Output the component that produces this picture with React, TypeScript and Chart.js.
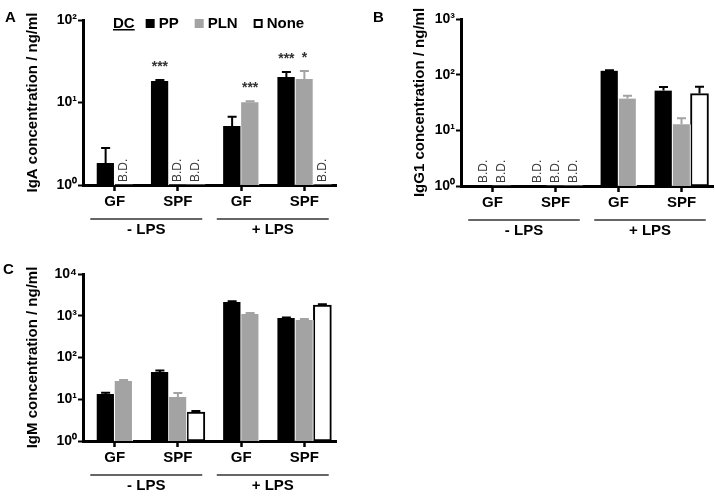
import React, { useEffect, useRef } from 'react';
import { Chart, registerables } from 'chart.js';

Chart.register(...registerables);

const FONT = '"Liberation Sans", Arial, Helvetica, sans-serif';
const BD = 'B.D.';

// ---------- data ----------
const CATEGORIES = ['GF', 'SPF', 'GF', 'SPF'];
const GROUP_LABELS = ['- LPS', '+ LPS'];
const SERIES_LABELS = ['PP', 'PLN', 'None'];
const LEGEND_TITLE = 'DC';

const Y_TICKS_A = [1, 10, 100];
const Y_TICKS_B = [1, 10, 100, 1000];
const Y_TICKS_C = [1, 10, 100, 1000, 10000];

// A: IgA
const IGA_PP = [1.85, 18.2, 5.2, 20.4];
const IGA_PP_ERR = [0.95, 0.5, 1.5, 3.0];
const IGA_PP_SIG = ['', '***', '', '***'];
const IGA_PLN = [BD, BD, 10.1, 19.3];
const IGA_PLN_ERR = [0, 0, 0.25, 4.8];
const IGA_PLN_SIG = ['', '', '***', '*'];
const IGA_NONE = [null, BD, null, BD];
const IGA_NONE_ERR = [0, 0, 0, 0];

// B: IgG1
const IGG1_PP = [BD, BD, 118, 52];
const IGG1_PP_ERR = [0, 0, 1.5, 8];
const IGG1_PLN = [BD, BD, 37.3, 12.8];
const IGG1_PLN_ERR = [0, 0, 4.5, 3.6];
const IGG1_NONE = [null, BD, null, 45.8];
const IGG1_NONE_ERR = [0, 0, 0, 15];

// C: IgM
const IGM_PP = [13.4, 45, 2135, 884];
const IGM_PP_ERR = [1.0, 4, 80, 30];
const IGM_PLN = [27.4, 11.3, 1100, 791];
const IGM_PLN_ERR = [1.5, 2.8, 70, 40];
const IGM_NONE = [null, 4.95, null, 1808];
const IGM_NONE_ERR = [0, 0.3, 0, 80];

const NO_SIG = ['', '', '', ''];
const SUP = ['\u2070', '\u00b9', '\u00b2', '\u00b3', '\u2074'];

// ---------- styles ----------
const STYLES = [
  { fill: '#000000', border: '#ffffff', bw: { top: 0, right: 1, bottom: 0, left: 0 }, err: '#000000', legendStroke: null },
  { fill: '#a3a3a3', border: '#ffffff', bw: { top: 0, right: 1, bottom: 0, left: 0 }, err: '#a3a3a3', legendStroke: null },
  { fill: '#ffffff', border: '#000000', bw: 2, err: '#000000', legendStroke: '#000000' },
];

type Val = number | string | null;
type Series = { values: Val[]; errors: number[]; sig: string[] };
type Panel = {
  letter: string;
  title: string;
  ticks: number[];
  series: Series[];
  legend: boolean;
  box: { left: number; top: number; width: number; height: number };
  area: { left: number; top: number; right: number; bottom: number };
  titleX: number;
  letterPos: { x: number; y: number };
};

const PANELS: Panel[] = [
  {
    letter: 'A',
    title: 'IgA concentration / ng/ml',
    ticks: Y_TICKS_A,
    series: [
      { values: IGA_PP, errors: IGA_PP_ERR, sig: IGA_PP_SIG },
      { values: IGA_PLN, errors: IGA_PLN_ERR, sig: IGA_PLN_SIG },
      { values: IGA_NONE, errors: IGA_NONE_ERR, sig: NO_SIG },
    ],
    legend: true,
    box: { left: 0, top: 0, width: 360, height: 255 },
    area: { left: 83, top: 20, right: 336, bottom: 185 },
    titleX: 33,
    letterPos: { x: 5, y: 18 },
  },
  {
    letter: 'B',
    title: 'IgG1 concentration / ng/ml',
    ticks: Y_TICKS_B,
    series: [
      { values: IGG1_PP, errors: IGG1_PP_ERR, sig: NO_SIG },
      { values: IGG1_PLN, errors: IGG1_PLN_ERR, sig: NO_SIG },
      { values: IGG1_NONE, errors: IGG1_NONE_ERR, sig: NO_SIG },
    ],
    legend: false,
    box: { left: 360, top: 0, width: 355, height: 255 },
    area: { left: 101, top: 19, right: 353, bottom: 186 },
    titleX: 60,
    letterPos: { x: 13, y: 18 },
  },
  {
    letter: 'C',
    title: 'IgM concentration / ng/ml',
    ticks: Y_TICKS_C,
    series: [
      { values: IGM_PP, errors: IGM_PP_ERR, sig: NO_SIG },
      { values: IGM_PLN, errors: IGM_PLN_ERR, sig: NO_SIG },
      { values: IGM_NONE, errors: IGM_NONE_ERR, sig: NO_SIG },
    ],
    legend: false,
    box: { left: 0, top: 255, width: 360, height: 246 },
    area: { left: 83, top: 19, right: 336, bottom: 186 },
    titleX: 33,
    letterPos: { x: 3, y: 15 },
  },
];

function makeExtrasPlugin(panel: Panel) {
  return {
    id: 'panelExtras' + panel.letter,
    afterDatasetsDraw(chart: any) {
      const ctx = chart.ctx as CanvasRenderingContext2D;
      const yScale = chart.scales.y;
      const bottom = chart.chartArea.bottom;
      chart.data.datasets.forEach((ds: any, di: number) => {
        const meta = chart.getDatasetMeta(di);
        meta.data.forEach((bar: any, i: number) => {
          const raw = ds.raw[i];
          if (raw === null || raw === undefined) return;
          if (raw === BD) {
            ctx.save();
            ctx.translate(bar.x, bottom - 3);
            ctx.rotate(-Math.PI / 2);
            ctx.font = `12px ${FONT}`;
            ctx.fillStyle = '#3a3a3a';
            ctx.textAlign = 'left';
            ctx.textBaseline = 'middle';
            ctx.fillText(BD, 0, 0);
            ctx.restore();
            return;
          }
          const err = ds.errs[i] || 0;
          let top = bar.y;
          if (err > 0) {
            top = yScale.getPixelForValue(raw + err);
            ctx.save();
            ctx.strokeStyle = ds.errColor;
            ctx.lineWidth = 2;
            ctx.beginPath();
            ctx.moveTo(bar.x, bar.y);
            ctx.lineTo(bar.x, top);
            ctx.moveTo(bar.x - 4.5, top);
            ctx.lineTo(bar.x + 4.5, top);
            ctx.stroke();
            ctx.restore();
          }
          const sig = ds.sigs[i];
          if (sig) {
            ctx.save();
            ctx.font = `bold 14px ${FONT}`;
            ctx.fillStyle = '#333';
            ctx.textAlign = 'center';
            ctx.textBaseline = 'alphabetic';
            ctx.fillText(sig, bar.x, top - 9);
            ctx.restore();
          }
        });
      });
    },
    afterDraw(chart: any) {
      const ctx = chart.ctx as CanvasRenderingContext2D;
      const xs = chart.scales.x;
      const bottom = chart.chartArea.bottom;
      // group lines and labels
      GROUP_LABELS.forEach((g, gi) => {
        const x0 = xs.getPixelForValue(gi * 2);
        const x1 = xs.getPixelForValue(gi * 2 + 1);
        const c = (x0 + x1) / 2;
        const half = (x1 - x0) * 0.885;
        ctx.save();
        ctx.strokeStyle = '#333';
        ctx.lineWidth = 1.5;
        ctx.beginPath();
        ctx.moveTo(c - half, bottom + 34);
        ctx.lineTo(c + half, bottom + 34);
        ctx.stroke();
        ctx.font = `bold 15px ${FONT}`;
        ctx.fillStyle = '#000';
        ctx.textAlign = 'center';
        ctx.textBaseline = 'middle';
        ctx.fillText(g, c, bottom + 45);
        ctx.restore();
      });
      // panel letter
      ctx.save();
      ctx.font = `bold 15px ${FONT}`;
      ctx.fillStyle = '#000';
      ctx.textAlign = 'left';
      ctx.textBaseline = 'middle';
      ctx.fillText(panel.letter, panel.letterPos.x, panel.letterPos.y);
      ctx.restore();
      // legend
      if (panel.legend) {
        ctx.save();
        ctx.font = `bold 15px ${FONT}`;
        ctx.fillStyle = '#000';
        ctx.textAlign = 'left';
        ctx.textBaseline = 'middle';
        const y = 23.5;
        let x = 113;
        ctx.fillText(LEGEND_TITLE, x, y);
        const tw = ctx.measureText(LEGEND_TITLE).width;
        ctx.fillRect(x, y + 5.5, tw, 1.5);
        x += tw + 11;
        SERIES_LABELS.forEach((lab, si) => {
          const st = STYLES[si];
          if (st.legendStroke) {
            ctx.fillStyle = st.fill;
            ctx.fillRect(x, y - 4.5, 9, 9);
            ctx.strokeStyle = st.legendStroke;
            ctx.lineWidth = 2;
            ctx.strokeRect(x + 1, y - 3.5, 7, 7);
          } else {
            ctx.fillStyle = st.fill;
            ctx.fillRect(x, y - 4.5, 9, 9);
          }
          x += 9 + 4;
          ctx.fillStyle = '#000';
          ctx.fillText(lab, x, y);
          x += ctx.measureText(lab).width + 16;
        });
        ctx.restore();
      }
    },
  };
}

function PanelChart({ panel }: { panel: Panel }) {
  const ref = useRef<HTMLCanvasElement | null>(null);
  useEffect(() => {
    if (!ref.current) return;
    const { box, area, ticks } = panel;
    const datasets = panel.series.map((s, si) => {
      const st = STYLES[si];
      return {
        label: SERIES_LABELS[si],
        data: s.values.map((v) => (v === BD ? ticks[0] : v)),
        raw: s.values,
        errs: s.errors,
        sigs: s.sig,
        errColor: st.err,
        backgroundColor: st.fill,
        borderColor: st.border,
        borderWidth: (c: any) => (s.values[c.dataIndex] === BD ? 0 : st.bw),
        borderSkipped: si === 2 ? false : 'start',
        barThickness: 18,
        skipNull: true,
      };
    });
    const chart = new Chart(ref.current, {
      type: 'bar',
      data: { labels: CATEGORIES, datasets: datasets as any },
      options: {
        animation: false,
        responsive: false,
        devicePixelRatio: 1,
        layout: { padding: { left: 0, top: area.top, right: box.width - area.right, bottom: 0 } },
        plugins: { legend: { display: false }, tooltip: { enabled: false } },
        datasets: { bar: { skipNull: true } } as any,
        scales: {
          x: {
            type: 'category',
            offset: true,
            z: 1,
            grid: {
              display: true,
              drawOnChartArea: false,
              drawTicks: true,
              tickLength: 6,
              tickWidth: 2.5,
              tickColor: '#000',
              offset: false,
            },
            border: { display: true, color: '#000', width: 3 },
            ticks: {
              color: '#000',
              font: { family: FONT, size: 15, weight: 'bold' },
              padding: 2,
              maxRotation: 0,
              autoSkip: false,
            },
            afterFit: (s: any) => {
              s.height = box.height - area.bottom;
            },
          },
          y: {
            type: 'logarithmic',
            min: ticks[0],
            max: ticks[ticks.length - 1],
            z: 1,
            afterBuildTicks: (s: any) => {
              s.ticks = ticks.map((v) => ({ value: v, major: true }));
            },
            grid: {
              display: true,
              drawOnChartArea: false,
              drawTicks: true,
              tickLength: 5,
              tickWidth: 2,
              tickColor: '#000',
            },
            border: { display: true, color: '#000', width: 3 },
            ticks: {
              color: '#000',
              font: { family: FONT, size: 14, weight: 'bold' },
              padding: 1,
              callback: (v: any) => '10' + SUP[Math.round(Math.log10(Number(v)))],
            },
            title: {
              display: true,
              text: panel.title,
              color: '#000',
              font: { family: FONT, size: 15, weight: 'bold' },
              padding: { top: panel.titleX - 9, bottom: 0 },
            },
            afterFit: (s: any) => {
              s.width = area.left;
            },
          },
        },
      } as any,
      plugins: [makeExtrasPlugin(panel)],
    });
    return () => chart.destroy();
  }, [panel]);
  const { box } = panel;
  return (
    <canvas
      ref={ref}
      width={box.width}
      height={box.height}
      style={{ position: 'absolute', left: box.left, top: box.top, width: box.width, height: box.height }}
    />
  );
}

export default function App() {
  return (
    <div style={{ position: 'absolute', left: 0, top: 0, width: 715, height: 501, background: '#fff', overflow: 'hidden' }}>
      {PANELS.map((p) => (
        <PanelChart key={p.letter} panel={p} />
      ))}
    </div>
  );
}
